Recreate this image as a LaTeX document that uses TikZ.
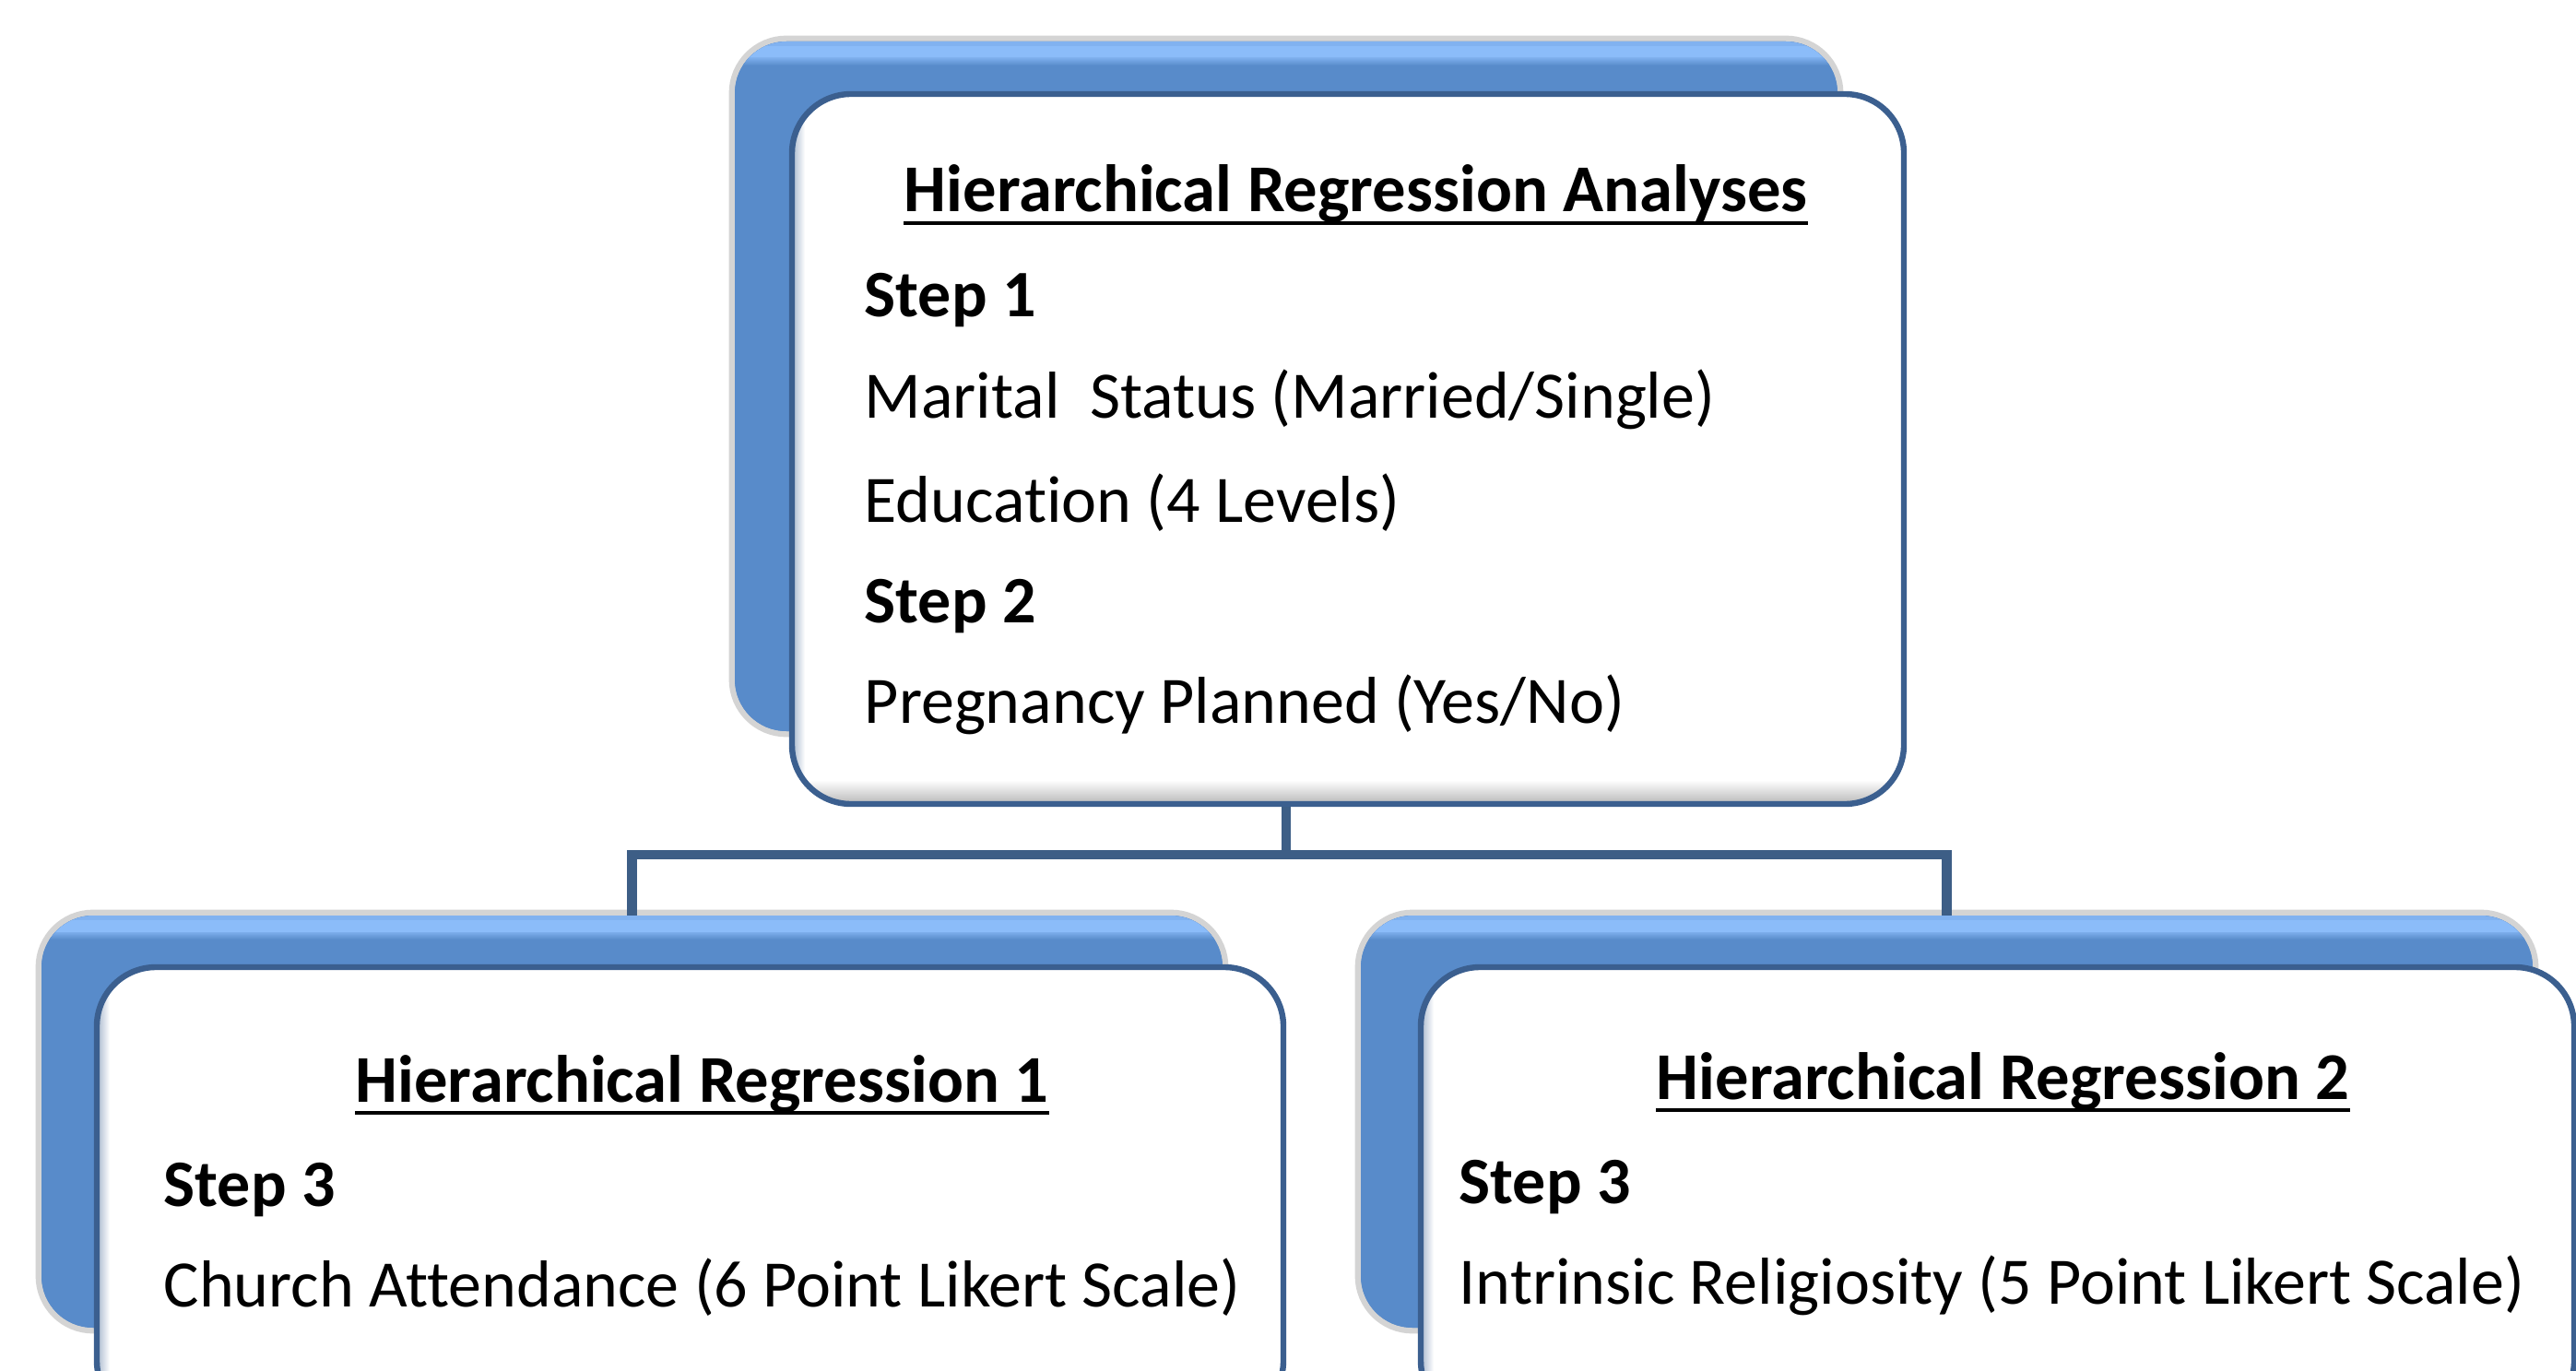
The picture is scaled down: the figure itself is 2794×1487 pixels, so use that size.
\documentclass[tikz,border=0pt]{standalone}
\usepackage{fontspec}
\setmainfont{Carlito}[Ligatures={NoCommon,NoRequired,NoContextual}]
\usetikzlibrary{calc}
\definecolor{backblue}{HTML}{588BCA}
\definecolor{hlblue}{HTML}{8BBCF9}
\definecolor{midblue}{HTML}{4A78B0}
\definecolor{frameblue}{HTML}{3B5F8F}
\definecolor{linkblue}{HTML}{3D5E86}
\begin{document}
\begin{tikzpicture}[x=0.25pt,y=-0.25pt,
  backbox/.style={rectangle, rounded corners=14pt, fill=backblue,
    preaction={draw=black!17, line width=3.2pt}, inner sep=0pt, outer sep=0pt},
  frontbox/.style={rectangle, rounded corners=16pt, fill=white,
    inner sep=0pt, outer sep=0pt},
  frontframe/.style={draw=frameblue, line width=1.6pt, rounded corners=16pt},
  link/.style={draw=linkblue, line width=2.6pt, line join=miter},
  titletext/.style={anchor=base west, inner sep=0pt, font=\fontsize{18.15}{21}\selectfont\bfseries},
  steptext/.style={anchor=base west, inner sep=0pt, font=\fontsize{18}{21}\selectfont\bfseries},
  bodytext/.style={anchor=base west, inner sep=0pt, font=\fontsize{18}{21}\selectfont},
  uline/.style={line width=1pt, draw=black}
]
\clip (0,0) rectangle (2794,1487);
\fill[white] (0,0) rectangle (2794,1487);

% back boxes (positions only)
\node[backbox, minimum width=299pt, minimum height=187pt] (topback) at (1395,419) {};
\node[backbox, minimum width=320.25pt, minimum height=111.75pt] (leftback) at (685.5,1216.5) {};
\node[backbox, minimum width=317.75pt, minimum height=111.75pt] (rightback) at (2111.5,1216.5) {};

% connectors
\coordinate (hub) at ($(topback.south)+(0,134)$);
\draw[link] (topback.south) -- (hub);
\draw[link] (leftback.north) |- (hub) -| (rightback.north);

% redraw back boxes over connector ends
\foreach \b in {topback,leftback,rightback}{
  \fill[backblue, rounded corners=14pt] (\b.north west) rectangle (\b.south east);
  \begin{scope}
    \clip[rounded corners=14pt] (\b.north west) rectangle (\b.south east);
    \fill[hlblue!80!backblue] ($(\b.north west)+(0,0)$) rectangle ($(\b.north east)+(0,5)$);
    \fill[hlblue] ($(\b.north west)+(0,5)$) rectangle ($(\b.north east)+(0,18)$);
    \shade[top color=hlblue!70!backblue, bottom color=backblue] ($(\b.north west)+(0,18)$) rectangle ($(\b.north east)+(0,26)$);
  \end{scope}
}

% front boxes
\node[frontbox, minimum width=301.5pt, minimum height=192.5pt] (topfront) at (1462,487) {};
\node[frontbox, minimum width=321.75pt, minimum height=122.75pt] (leftfront) at (748.5,1294.5) {};
\node[frontbox, minimum width=312.75pt, minimum height=122.75pt] (rightfront) at (2166.5,1294.5) {};

\foreach \b in {topfront,leftfront,rightfront}{
  \begin{scope}
    \clip[rounded corners=16pt] (\b.north west) rectangle (\b.south east);
    \shade[top color=white, bottom color=black!28] ($(\b.south west)+(0,-26)$) rectangle (\b.south east);
    \shade[left color=frameblue!45, right color=white] (\b.north west) rectangle ($(\b.south west)+(14,0)$);
  \end{scope}
  \draw[frontframe] (\b.north west) rectangle (\b.south east);
}

% top box text
\node[titletext] (t0) at (980,230) {Hierarchical Regression Analyses};
\draw[uline] ($(t0.base west)+(0,12)$) -- ($(t0.base east)+(0,12)$);
\node[steptext] (s1) at (937,343) {Step 1};
\node[bodytext] (m1) at (937,453) {Marital\ \ Status (Married/Single)};
\node[bodytext] (e1) at (937,566) {Education (4 Levels)};
\node[steptext] (s2) at (937,675) {Step 2};
\node[bodytext] (p1) at (937,784) {Pregnancy Planned (Yes/No)};

% left box text
\node[titletext] (t1) at (385,1195) {Hierarchical Regression 1};
\draw[uline] ($(t1.base west)+(0,12)$) -- ($(t1.base east)+(0,12)$);
\node[steptext] (s3a) at (177,1308) {Step 3};
\node[bodytext] (c1) at (177,1417) {Church Attendance (6 Point Likert Scale)};

% right box text
\node[titletext] (t2) at (1796,1192) {Hierarchical Regression 2};
\draw[uline] ($(t2.base west)+(0,12)$) -- ($(t2.base east)+(0,12)$);
\node[steptext] (s3b) at (1582,1305) {Step 3};
\node[bodytext] (r1) at (1582,1414) {Intrinsic Religiosity (5 Point Likert Scale)};
\end{tikzpicture}
\end{document}
